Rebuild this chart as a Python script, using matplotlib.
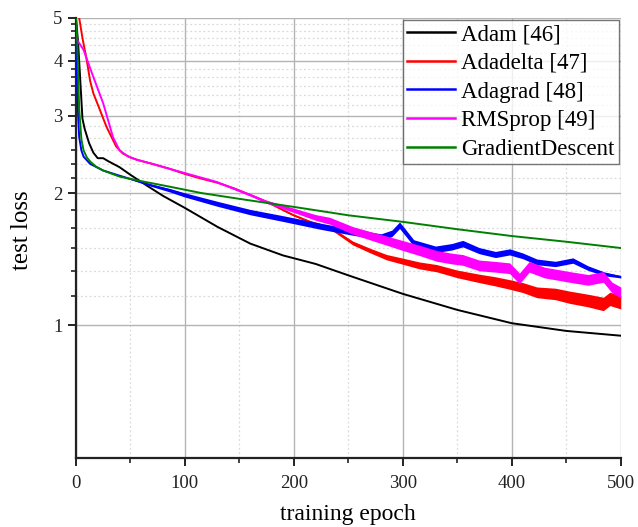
import numpy as np
import matplotlib
matplotlib.use("Agg")
import matplotlib.pyplot as plt
from matplotlib.ticker import FixedLocator, NullFormatter, FixedFormatter

plt.rcParams['font.family'] = ['Liberation Serif', 'DejaVu Serif']

# ---- data ----
adam_ep = [0, 2, 4, 6, 8, 12, 16, 20, 25, 30, 40, 50, 65, 80, 100, 130, 160, 190, 220,
           250, 300, 350, 400, 450, 500]
adam_val = [5.0, 4.4, 3.6, 2.95, 2.8, 2.6, 2.47, 2.40, 2.40, 2.36, 2.29, 2.20, 2.08, 1.97,
            1.85, 1.675, 1.535, 1.443, 1.38, 1.30, 1.18, 1.085, 1.012, 0.972, 0.948]

adadelta_ep = [3, 6, 10, 13, 16, 22, 28, 33, 37, 43, 50, 56, 70, 86, 100, 114, 130, 145, 160,
               175, 190, 200, 215, 233, 254, 270, 285, 300, 315, 331, 350, 370, 385, 398,
               410, 423, 440, 453, 470, 484, 490, 500]
adadelta_val = [5.0, 4.5, 4.0, 3.6, 3.37, 3.09, 2.83, 2.67, 2.55, 2.46, 2.41, 2.38, 2.33, 2.27,
                2.21, 2.16, 2.11, 2.05, 1.98, 1.91, 1.83, 1.78, 1.72, 1.67, 1.54, 1.48, 1.43,
                1.40, 1.37, 1.35, 1.31, 1.28, 1.26, 1.24, 1.22, 1.19, 1.18, 1.16, 1.14, 1.12,
                1.15, 1.13]
adadelta_band = [0, 0, 0, 0, 0, 0, 0, 0, 0, 0, 0, 0, 0, 0, 0, 0, 0, 0, 0, 0, 0.003, 0.004,
                 0.005, 0.007, 0.01, 0.012, 0.014, 0.016, 0.018, 0.019, 0.02, 0.022, 0.024,
                 0.025, 0.026, 0.028, 0.03, 0.032, 0.033, 0.035, 0.035, 0.035]

adagrad_ep = [0, 1, 2, 3, 5, 7, 13, 25, 40, 56, 70, 86, 100, 130, 160, 190, 225, 254, 280,
              290, 297, 303, 310, 330, 345, 355, 370, 385, 398, 410, 423, 440, 456, 470,
              485, 500]
adagrad_val = [5.0, 3.7, 3.0, 2.68, 2.5, 2.42, 2.33, 2.25, 2.19, 2.13, 2.08, 2.03, 1.98, 1.89,
               1.81, 1.75, 1.68, 1.63, 1.59, 1.62, 1.69, 1.62, 1.54, 1.49, 1.51, 1.535, 1.48,
               1.45, 1.47, 1.44, 1.395, 1.38, 1.405, 1.35, 1.31, 1.29]
adagrad_band = [0, 0, 0, 0, 0, 0, 0, 0, 0, 0.003, 0.006, 0.009, 0.011, 0.013, 0.014, 0.015,
                0.016, 0.016, 0.016, 0.017, 0.017, 0.017, 0.017, 0.017, 0.017, 0.017, 0.016,
                0.016, 0.016, 0.015, 0.015, 0.014, 0.014, 0.012, 0.01, 0.006]

rmsprop_ep = [0, 7, 16, 25, 30, 34, 40, 48, 56, 70, 86, 100, 129, 160, 175, 190, 205, 220, 233,
              254, 270, 285, 300, 316, 331, 345, 355, 370, 385, 398, 407, 416, 430, 453,
              470, 484, 492, 500]
rmsprop_val = [4.5, 4.23, 3.67, 3.2, 2.9, 2.68, 2.5, 2.42, 2.38, 2.33, 2.27, 2.22, 2.12, 1.98,
               1.91, 1.86, 1.81, 1.76, 1.73, 1.645, 1.60, 1.56, 1.52, 1.48, 1.44, 1.42, 1.41,
               1.37, 1.36, 1.35, 1.28, 1.36, 1.32, 1.29, 1.27, 1.29, 1.22, 1.19]
rmsprop_band = [0, 0, 0, 0, 0, 0, 0, 0, 0, 0, 0, 0.003, 0.004, 0.006, 0.008, 0.01, 0.012,
                0.015, 0.018, 0.02, 0.022, 0.024, 0.026, 0.027, 0.028, 0.028, 0.028, 0.028,
                0.028, 0.028, 0.028, 0.028, 0.028, 0.028, 0.028, 0.028, 0.028, 0.028]

gd_ep = [0, 1, 3, 5, 7, 10, 13, 18, 25, 40, 55, 85, 115, 150, 200, 250, 300, 350, 400, 450, 500]
gd_val = [5.0, 4.6, 3.1, 2.65, 2.5, 2.41, 2.36, 2.30, 2.25, 2.18, 2.14, 2.07, 2.0, 1.94, 1.86,
          1.78, 1.72, 1.655, 1.597, 1.55, 1.50]

labels = ['Adam [46]', 'Adadelta [47]', 'Adagrad [48]', 'RMSprop [49]', 'GradientDescent']
colors = ['black', '#ff0000', '#0000ff', '#ff00ff', '#008000']

x_major = [0, 100, 200, 300, 400, 500]
x_minor = [50, 150, 250, 350, 450]
y_major = [1, 2, 3, 4, 5]
y_labels = ['1', '2', '3', '4', '5']

# ---- figure ----
fig = plt.figure(figsize=(6.38, 5.27), dpi=100)
ax = fig.add_axes([0.119, 0.131, 0.854, 0.835])
ax.set_yscale('log')

def draw(ep, val, band, color, label):
    ep = np.asarray(ep, float)
    val = np.asarray(val, float)
    if band is not None:
        b = np.asarray(band, float)
        ax.fill_between(ep, val * (1 - b), val * (1 + b), color=color, linewidth=0, zorder=3)
    ax.plot(ep, val, color=color, lw=1.4, label=label, zorder=3)

draw(adam_ep, adam_val, None, colors[0], labels[0])
draw(adadelta_ep, adadelta_val, adadelta_band, colors[1], labels[1])
draw(adagrad_ep, adagrad_val, adagrad_band, colors[2], labels[2])
draw(rmsprop_ep, rmsprop_val, rmsprop_band, colors[3], labels[3])
draw(gd_ep, gd_val, None, colors[4], labels[4])

ax.set_xlim(0, 500)
ax.set_ylim(0.5, 5)

ax.xaxis.set_major_locator(FixedLocator(x_major))
ax.xaxis.set_minor_locator(FixedLocator(x_minor))
ax.yaxis.set_major_locator(FixedLocator(y_major))
ax.yaxis.set_major_formatter(FixedFormatter(y_labels))
y_minor = []
for a, b in zip(y_major[:-1], y_major[1:]):
    y_minor += [a + (b - a) * k / 6 for k in range(1, 6)]
ax.yaxis.set_minor_locator(FixedLocator(y_minor))
ax.yaxis.set_minor_formatter(NullFormatter())

ax.grid(True, which='major', color='#b4b4b4', lw=1.0, zorder=0)
ax.grid(True, which='minor', color='#dadada', lw=0.9, ls=(0, (1.5, 2)), zorder=0)
ax.set_axisbelow(True)

for s in ['top', 'right']:
    ax.spines[s].set_visible(False)
for s in ['left', 'bottom']:
    ax.spines[s].set_linewidth(1.6)
    ax.spines[s].set_color('#222222')

ax.tick_params(which='major', direction='out', length=6, width=1.4, labelsize=13.5, colors='#222222')
ax.tick_params(which='minor', direction='out', length=3.5, width=1.2, colors='#222222')
ax.tick_params(axis='x', pad=6)

ax.set_xlabel('training epoch', fontsize=17, labelpad=9)
ax.set_ylabel('test loss', fontsize=18)
ax.yaxis.set_label_coords(-0.079, 0.518)

leg = ax.legend(loc='upper right', bbox_to_anchor=(0.997, 0.996), fontsize=16.5, frameon=True,
                fancybox=False, edgecolor='#555555', handlelength=2.1, handletextpad=0.25,
                borderpad=0.2, labelspacing=0.33, borderaxespad=0.0)
leg.get_frame().set_linewidth(1.0)
leg.set_zorder(5)
for line in leg.get_lines():
    line.set_linewidth(1.8)

fig.savefig('out.png', dpi=100)
